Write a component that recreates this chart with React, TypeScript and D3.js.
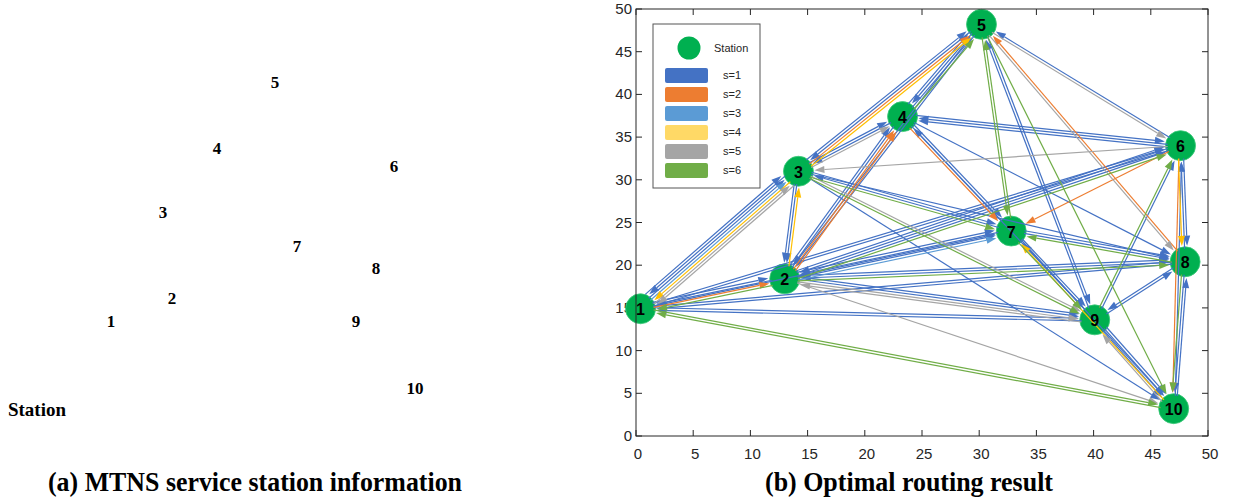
import React from 'react';
import * as d3 from 'd3';

// station coordinates (routing plot)
const stationIds = [1, 2, 3, 4, 5, 6, 7, 8, 9, 10];
const stationX = [0.4, 13.0, 14.2, 23.3, 30.2, 47.6, 32.8, 48.0, 40.1, 47.0];
const stationY = [14.9, 18.4, 31.0, 37.4, 48.2, 34.0, 24.0, 20.4, 13.6, 3.2];

// station map (panel a), arbitrary map units
const mapX = [11.1, 17.2, 16.3, 21.7, 27.5, 39.4, 29.7, 37.6, 35.6, 41.5];
const mapY = [13.5, 16.1, 25.9, 33.1, 40.6, 31.1, 22.0, 19.5, 13.5, 5.9];

const seriesNames = ['s=1', 's=2', 's=3', 's=4', 's=5', 's=6'];
const lineColors = ['#4472C4', '#ED7D31', '#5B9BD5', '#FFC000', '#A5A5A5', '#70AD47'];
const swatchColors = ['#4472C4', '#ED7D31', '#5B9BD5', '#FFD966', '#A5A5A5', '#70AD47'];

const xTicks = [0, 5, 10, 15, 20, 25, 30, 35, 40, 45, 50];
const yTicks = [0, 5, 10, 15, 20, 25, 30, 35, 40, 45, 50];

// routes: [from, to, s]
const routes: [number, number, number][] = [
  // s=1
  [1, 2, 1], [2, 1, 1], [1, 3, 1], [3, 1, 1], [1, 3, 1], [1, 6, 1], [6, 1, 1], [1, 7, 1],
  [1, 8, 1], [8, 1, 1], [1, 9, 1], [9, 1, 1],
  [3, 2, 1], [3, 2, 1], [2, 4, 1], [4, 2, 1], [2, 5, 1], [5, 2, 1], [2, 6, 1], [6, 2, 1], [2, 6, 1],
  [2, 7, 1], [7, 2, 1], [2, 7, 1], [2, 8, 1], [8, 2, 1], [2, 9, 1], [2, 9, 1],
  [3, 4, 1], [4, 3, 1], [3, 5, 1], [5, 3, 1], [3, 7, 1], [7, 3, 1], [3, 8, 1], [3, 10, 1],
  [4, 5, 1], [5, 4, 1], [4, 5, 1], [4, 6, 1], [6, 4, 1], [6, 4, 1], [4, 7, 1], [7, 4, 1], [4, 8, 1], [4, 9, 1],
  [6, 5, 1], [5, 9, 1], [9, 5, 1],
  [6, 8, 1], [8, 6, 1], [9, 6, 1], [10, 6, 1],
  [7, 8, 1], [7, 8, 1], [7, 9, 1], [9, 7, 1], [7, 10, 1],
  [9, 8, 1], [8, 9, 1], [10, 8, 1], [8, 10, 1],
  [9, 10, 1], [9, 10, 1], [9, 10, 1],
  // s=2
  [1, 2, 2], [2, 4, 2], [2, 4, 2], [3, 5, 2], [8, 5, 2], [6, 7, 2], [4, 7, 2], [6, 10, 2],
  // s=3
  [1, 3, 3], [2, 7, 3],
  // s=4
  [3, 1, 4], [2, 3, 4], [3, 5, 4], [10, 7, 4], [6, 8, 4],
  // s=5
  [1, 3, 5], [3, 1, 5], [3, 4, 5], [6, 3, 5], [5, 6, 5], [5, 8, 5], [2, 9, 5], [9, 2, 5],
  [3, 9, 5], [2, 10, 5], [10, 9, 5],
  // s=6
  [1, 10, 6], [10, 1, 6], [2, 1, 6], [2, 6, 6], [2, 8, 6], [3, 7, 6], [3, 9, 6], [4, 5, 6],
  [7, 5, 6], [5, 7, 6], [5, 10, 6], [8, 7, 6], [7, 9, 6], [9, 6, 6], [8, 10, 6],
];

const x = d3.scaleLinear().domain([0, 50]).range([636, 1208]);
const y = d3.scaleLinear().domain([0, 50]).range([436, 9]);
const mx = d3.scaleLinear().domain([0, 50]).range([0, 500]);
const my = d3.scaleLinear().domain([0, 50]).range([440, 0]);

const R = 15;

function buildArrows() {
  const groups = d3.group(routes.map((r, i) => ({ r, i })), d =>
    `${Math.min(d.r[0], d.r[1])}-${Math.max(d.r[0], d.r[1])}`);
  const offsets: number[] = new Array(routes.length).fill(0);
  groups.forEach(list => {
    const n = list.length;
    list.forEach((d, k) => { offsets[d.i] = (k - (n - 1) / 2) * 2.6; });
  });
  return routes.map((r, i) => {
    const a = r[0] - 1, b = r[1] - 1;
    const lo = Math.min(a, b), hi = Math.max(a, b);
    const ax = x(stationX[a]), ay = y(stationY[a]);
    const bx = x(stationX[b]), by = y(stationY[b]);
    const len = Math.hypot(bx - ax, by - ay);
    const ux = (bx - ax) / len, uy = (by - ay) / len;
    // normal based on unordered pair so parallel edges separate
    const px0 = x(stationX[hi]) - x(stationX[lo]);
    const py0 = y(stationY[hi]) - y(stationY[lo]);
    const pl = Math.hypot(px0, py0);
    const nx = -py0 / pl, ny = px0 / pl;
    const off = offsets[i];
    const sx = ax + ux * (R - 2) + nx * off, sy = ay + uy * (R - 2) + ny * off;
    const tx = bx - ux * (R + 1) + nx * off, ty = by - uy * (R + 1) + ny * off;
    const hl = 10, hw = 3.5;
    const baseX = tx - ux * hl, baseY = ty - uy * hl;
    const head = `${tx},${ty} ${baseX + nx * hw},${baseY + ny * hw} ${baseX - nx * hw},${baseY - ny * hw}`;
    return { key: i, sx, sy, baseX, baseY, head, color: lineColors[r[2] - 1] };
  });
}

export default function App() {
  const arrows = buildArrows();
  const tickFont = '"Liberation Sans", Arial, sans-serif';
  const serif = '"Liberation Serif", "Times New Roman", serif';
  return (
    <div style={{ position: 'fixed', left: 0, top: 0 }}>
      <svg width={1234} height={499} style={{ display: 'block', background: '#fff' }}>
        {/* panel (a) */}
        <g fontFamily={serif} fontWeight="bold" fill="#000">
          {stationIds.map((id, i) => (
            <text key={id} x={mx(mapX[i])} y={my(mapY[i])} textAnchor="middle"
              dominantBaseline="central" fontSize={17}>{id}</text>
          ))}
          <text x={8} y={416} fontSize={19} textLength={58} lengthAdjust="spacingAndGlyphs">Station</text>
          <text x={48} y={491} fontSize={27} textLength={414} lengthAdjust="spacingAndGlyphs">
            (a) MTNS service station information</text>
          <text x={765} y={491} fontSize={27} textLength={288} lengthAdjust="spacingAndGlyphs">
            (b) Optimal routing result</text>
        </g>

        {/* panel (b) axes */}
        <g fontFamily={tickFont} fontSize={15} fill="#262626">
          {xTicks.map(t => (
            <g key={'x' + t}>
              <line x1={x(t)} x2={x(t)} y1={436} y2={430} stroke="#262626" />
              <line x1={x(t)} x2={x(t)} y1={9} y2={15} stroke="#262626" />
              <text x={x(t) + 2} y={459} textAnchor="middle">{t}</text>
            </g>
          ))}
          {yTicks.map(t => (
            <g key={'y' + t}>
              <line x1={636} x2={642} y1={y(t)} y2={y(t)} stroke="#262626" />
              <line x1={1208} x2={1202} y1={y(t)} y2={y(t)} stroke="#262626" />
              <text x={632} y={y(t) + 5} textAnchor="end">{t}</text>
            </g>
          ))}
        </g>

        {/* stations */}
        {stationIds.map((id, i) => (
          <circle key={'c' + id} cx={x(stationX[i])} cy={y(stationY[i])} r={R}
            fill="#00B050" stroke="#3cc97a" strokeWidth={0.8} />
        ))}

        {/* routes */}
        <g>
          {arrows.map(a => (
            <g key={a.key}>
              <line x1={a.sx} y1={a.sy} x2={a.baseX} y2={a.baseY} stroke={a.color} strokeWidth={1.2} />
              <polygon points={a.head} fill={a.color} />
            </g>
          ))}
        </g>

        {stationIds.map((id, i) => (
          <text key={'t' + id} x={x(stationX[i])} y={y(stationY[i]) + 1} textAnchor="middle"
            dominantBaseline="central" fontFamily={tickFont} fontWeight="bold" fontSize={16}
            fill="#000">{id}</text>
        ))}

        <rect x={636} y={9} width={572} height={427} fill="none" stroke="#262626" strokeWidth={1} />

        {/* legend */}
        <g fontFamily={tickFont} fontSize={11} fill="#262626">
          <rect x={653} y={24} width={107} height={164} fill="#fff" stroke="#555" strokeWidth={1} />
          <circle cx={689} cy={48} r={11.5} fill="#00B050" />
          <text x={714} y={52}>Station</text>
          {seriesNames.map((s, i) => (
            <g key={s}>
              <rect x={665} y={68 + i * 19} width={43} height={15} rx={2} fill={swatchColors[i]} />
              <text x={732} y={79 + i * 19} textAnchor="middle">{s}</text>
            </g>
          ))}
        </g>
      </svg>
    </div>
  );
}
